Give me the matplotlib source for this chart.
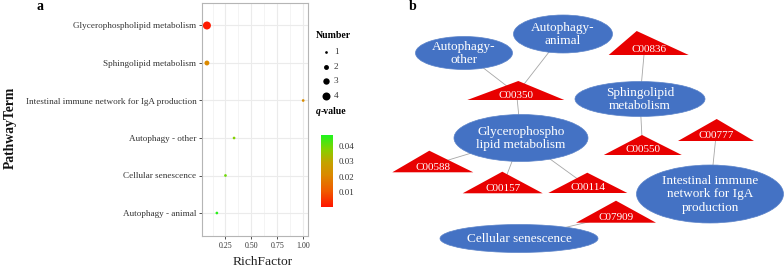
import matplotlib
matplotlib.use("Agg")
import matplotlib.pyplot as plt
from matplotlib.colors import LinearSegmentedColormap, Normalize
from matplotlib.patches import Ellipse, Polygon
import matplotlib.cm as cm

# ---------------- Panel a data ----------------
pathways = ["Glycerophospholipid metabolism", "Sphingolipid metabolism",
            "Intestinal immune network for IgA production", "Autophagy - other",
            "Cellular senescence", "Autophagy - animal"]
rich_factor = [0.071, 0.071, 1.0, 0.333, 0.25, 0.167]
number = [4, 2, 1, 1, 1, 1]
q_value = [0.001, 0.021, 0.022, 0.038, 0.040, 0.046]
x_ticks = [0.25, 0.50, 0.75, 1.00]
x_tick_labels = ["0.25", "0.50", "0.75", "1.00"]
number_levels = [1, 2, 3, 4]
q_ticks = [0.01, 0.02, 0.03, 0.04]
q_tick_labels = ["0.01", "0.02", "0.03", "0.04"]
q_range = (0.0002, 0.0472)

# ---------------- Panel b data ----------------
pathway_ids = ["aut_other", "aut_animal", "sphingo", "glycero", "iga", "senescence"]
pathway_labels = ["Autophagy-\nother", "Autophagy-\nanimal", "Sphingolipid\nmetabolism",
                  "Glycerophospho\nlipid metabolism",
                  "Intestinal immune\nnetwork for IgA\nproduction", "Cellular senescence"]
pathway_x = [464, 563, 640, 521, 710, 519]
pathway_y = [53, 34, 99, 138, 194, 238.5]
pathway_w = [97, 99, 130, 134, 147, 158]
pathway_h = [33, 38, 35, 47, 58, 28]

compounds = ["C00836", "C00350", "C00777", "C00550", "C00588", "C00157", "C00114", "C07909"]
compound_x = [648.7, 515.8, 716, 642.8, 432.8, 502.7, 587.8, 616]
compound_y = [55, 100, 141, 155, 172.3, 193.3, 193, 222.7]
compound_w = [80, 97, 76, 78, 81, 80, 79, 80]
compound_h = [24, 19, 22, 20, 21.6, 21.6, 20.3, 22]
compound_apex_dx = [-12, 2.5, 0.7, -0.8, -3.5, -0.4, -0.5, 0]

edges = [("aut_other", "C00350"), ("aut_animal", "C00350"), ("glycero", "C00350"),
         ("sphingo", "C00836"), ("sphingo", "C00550"), ("iga", "C00777"),
         ("glycero", "C00588"), ("glycero", "C00157"), ("glycero", "C00114"),
         ("senescence", "C07909")]

# ---------------- styles ----------------
W, H = 784, 267
SERIF = ["Liberation Serif", "DejaVu Serif"]
plt.rcParams["font.family"] = SERIF
size_px = {1: 2.7, 2: 4.9, 3: 6.4, 4: 8.0}  # marker diameter in pixels


def s_of(n):
    return (size_px[n] * 0.72) ** 2


cmap = LinearSegmentedColormap.from_list(
    "qv", [(0.0, "#FF1500"), (0.22, "#F05A00"), (0.45, "#DA8A00"),
           (0.62, "#C4A200"), (0.8, "#86D000"), (1.0, "#1EF51E")])
norm = Normalize(*q_range)

fig = plt.figure(figsize=(W / 100, H / 100), dpi=100)
fig.patch.set_facecolor("white")


def fx(px):
    return px / W


def fy(py):
    return 1 - py / H


# ---------------- Panel a ----------------
axL, axR, axT, axB = 202, 308, 3, 235.5
ax = fig.add_axes([fx(axL), fy(axB), fx(axR - axL), (axB - axT) / H])
ypos = list(range(len(pathways)))
ax.scatter(rich_factor, ypos, s=[s_of(n) for n in number], c=q_value, cmap=cmap,
           norm=norm, linewidths=0, zorder=3)
ax.set_ylim(len(pathways) - 0.4, -0.6)
ax.set_xlim(0.0235, 1.0465)
ax.set_yticks(ypos)
ax.set_yticklabels(pathways, fontsize=6.6, color="#333333")
ax.set_xticks(x_ticks)
ax.set_xticklabels(x_tick_labels, fontsize=5.7, color="#333333")
ax.set_xticks([0.125, 0.375, 0.625, 0.875], minor=True)
ax.grid(True, which="major", color="#EBEBEB", lw=0.8)
ax.grid(True, which="minor", axis="x", color="#F0F0F0", lw=0.5)
ax.set_axisbelow(True)
ax.tick_params(axis="both", which="major", length=2, width=0.6, color="#333333", pad=2)
ax.tick_params(axis="x", which="major", pad=3)
ax.tick_params(axis="x", which="minor", length=0)
for sp in ax.spines.values():
    sp.set_color("#B5B5B5")
    sp.set_linewidth(0.8)

fig.text(fx(10), fy(128), "PathwayTerm", rotation=90, ha="center", va="center",
         fontsize=9.8, fontweight="bold", color="#111111")
fig.text(fx(263), fy(262), "RichFactor", ha="center", va="center", fontsize=9.7,
         color="#222222")

# colorbar
cax = fig.add_axes([fx(321), fy(207), fx(12), 72 / H])
cb = fig.colorbar(cm.ScalarMappable(norm=norm, cmap=cmap), cax=cax)
cb.outline.set_visible(False)
cb.set_ticks(q_ticks)
cb.set_ticklabels(q_tick_labels)
cax.tick_params(length=2, width=0.5, color="white", labelsize=6.4, pad=2,
                labelcolor="#333333")

# ---------------- overlay (legend + panel b) ----------------
ov = fig.add_axes([0, 0, 1, 1])
ov.set_xlim(0, W)
ov.set_ylim(H, 0)
ov.axis("off")
ov.patch.set_alpha(0)

ov.text(37, 7, "a", fontsize=10, fontweight="bold", ha="left", va="center")
ov.text(409, 6, "b", fontsize=10, fontweight="bold", ha="left", va="center")

# size legend
ov.text(316, 36, "Number", fontsize=7, fontweight="bold", ha="left", va="center")
leg_y0, leg_dy = 52, 14.6
for i, n in enumerate(number_levels):
    ov.scatter([326.5], [leg_y0 + i * leg_dy], s=s_of(n), color="black", linewidths=0)
    ov.text(334, leg_y0 + i * leg_dy, str(n), fontsize=6.6, ha="left", va="center",
            color="#333333")

ov.text(316, 111, "q", fontsize=7, fontweight="bold", fontstyle="italic",
        ha="left", va="center")
ov.text(320.5, 111, "-value", fontsize=7, fontweight="bold", ha="left", va="center")

# network
anchor = {}
for pid, x, y in zip(pathway_ids, pathway_x, pathway_y):
    anchor[pid] = (x, y)
for c, x, y, h, dx in zip(compounds, compound_x, compound_y, compound_h, compound_apex_dx):
    anchor[c] = (x + dx / 3, y - h / 3)

for a, b in edges:
    (x1, y1), (x2, y2) = anchor[a], anchor[b]
    ov.plot([x1, x2], [y1, y2], color="#A6A6A6", lw=0.6, zorder=1)

BLUE = "#4472C4"
RED = "#E80000"
for lab, x, y, w, h in zip(pathway_labels, pathway_x, pathway_y, pathway_w, pathway_h):
    ov.add_patch(Ellipse((x, y), w, h, facecolor=BLUE, edgecolor="#5B83C9",
                         lw=0.5, zorder=2))
    ov.text(x, y + 0.5, lab, color="white", fontsize=9.5, ha="center", va="center",
            linespacing=1.15, zorder=3)

for c, x, y, w, h, dx in zip(compounds, compound_x, compound_y, compound_w,
                             compound_h, compound_apex_dx):
    ov.add_patch(Polygon([(x - w / 2, y), (x + w / 2, y), (x + dx, y - h)],
                         closed=True, facecolor=RED, edgecolor="none", zorder=2))
    ov.text(x, y - 5, c, color="white", fontsize=8, ha="center", va="center", zorder=3)

fig.savefig("out.png", dpi=100, facecolor="white")
